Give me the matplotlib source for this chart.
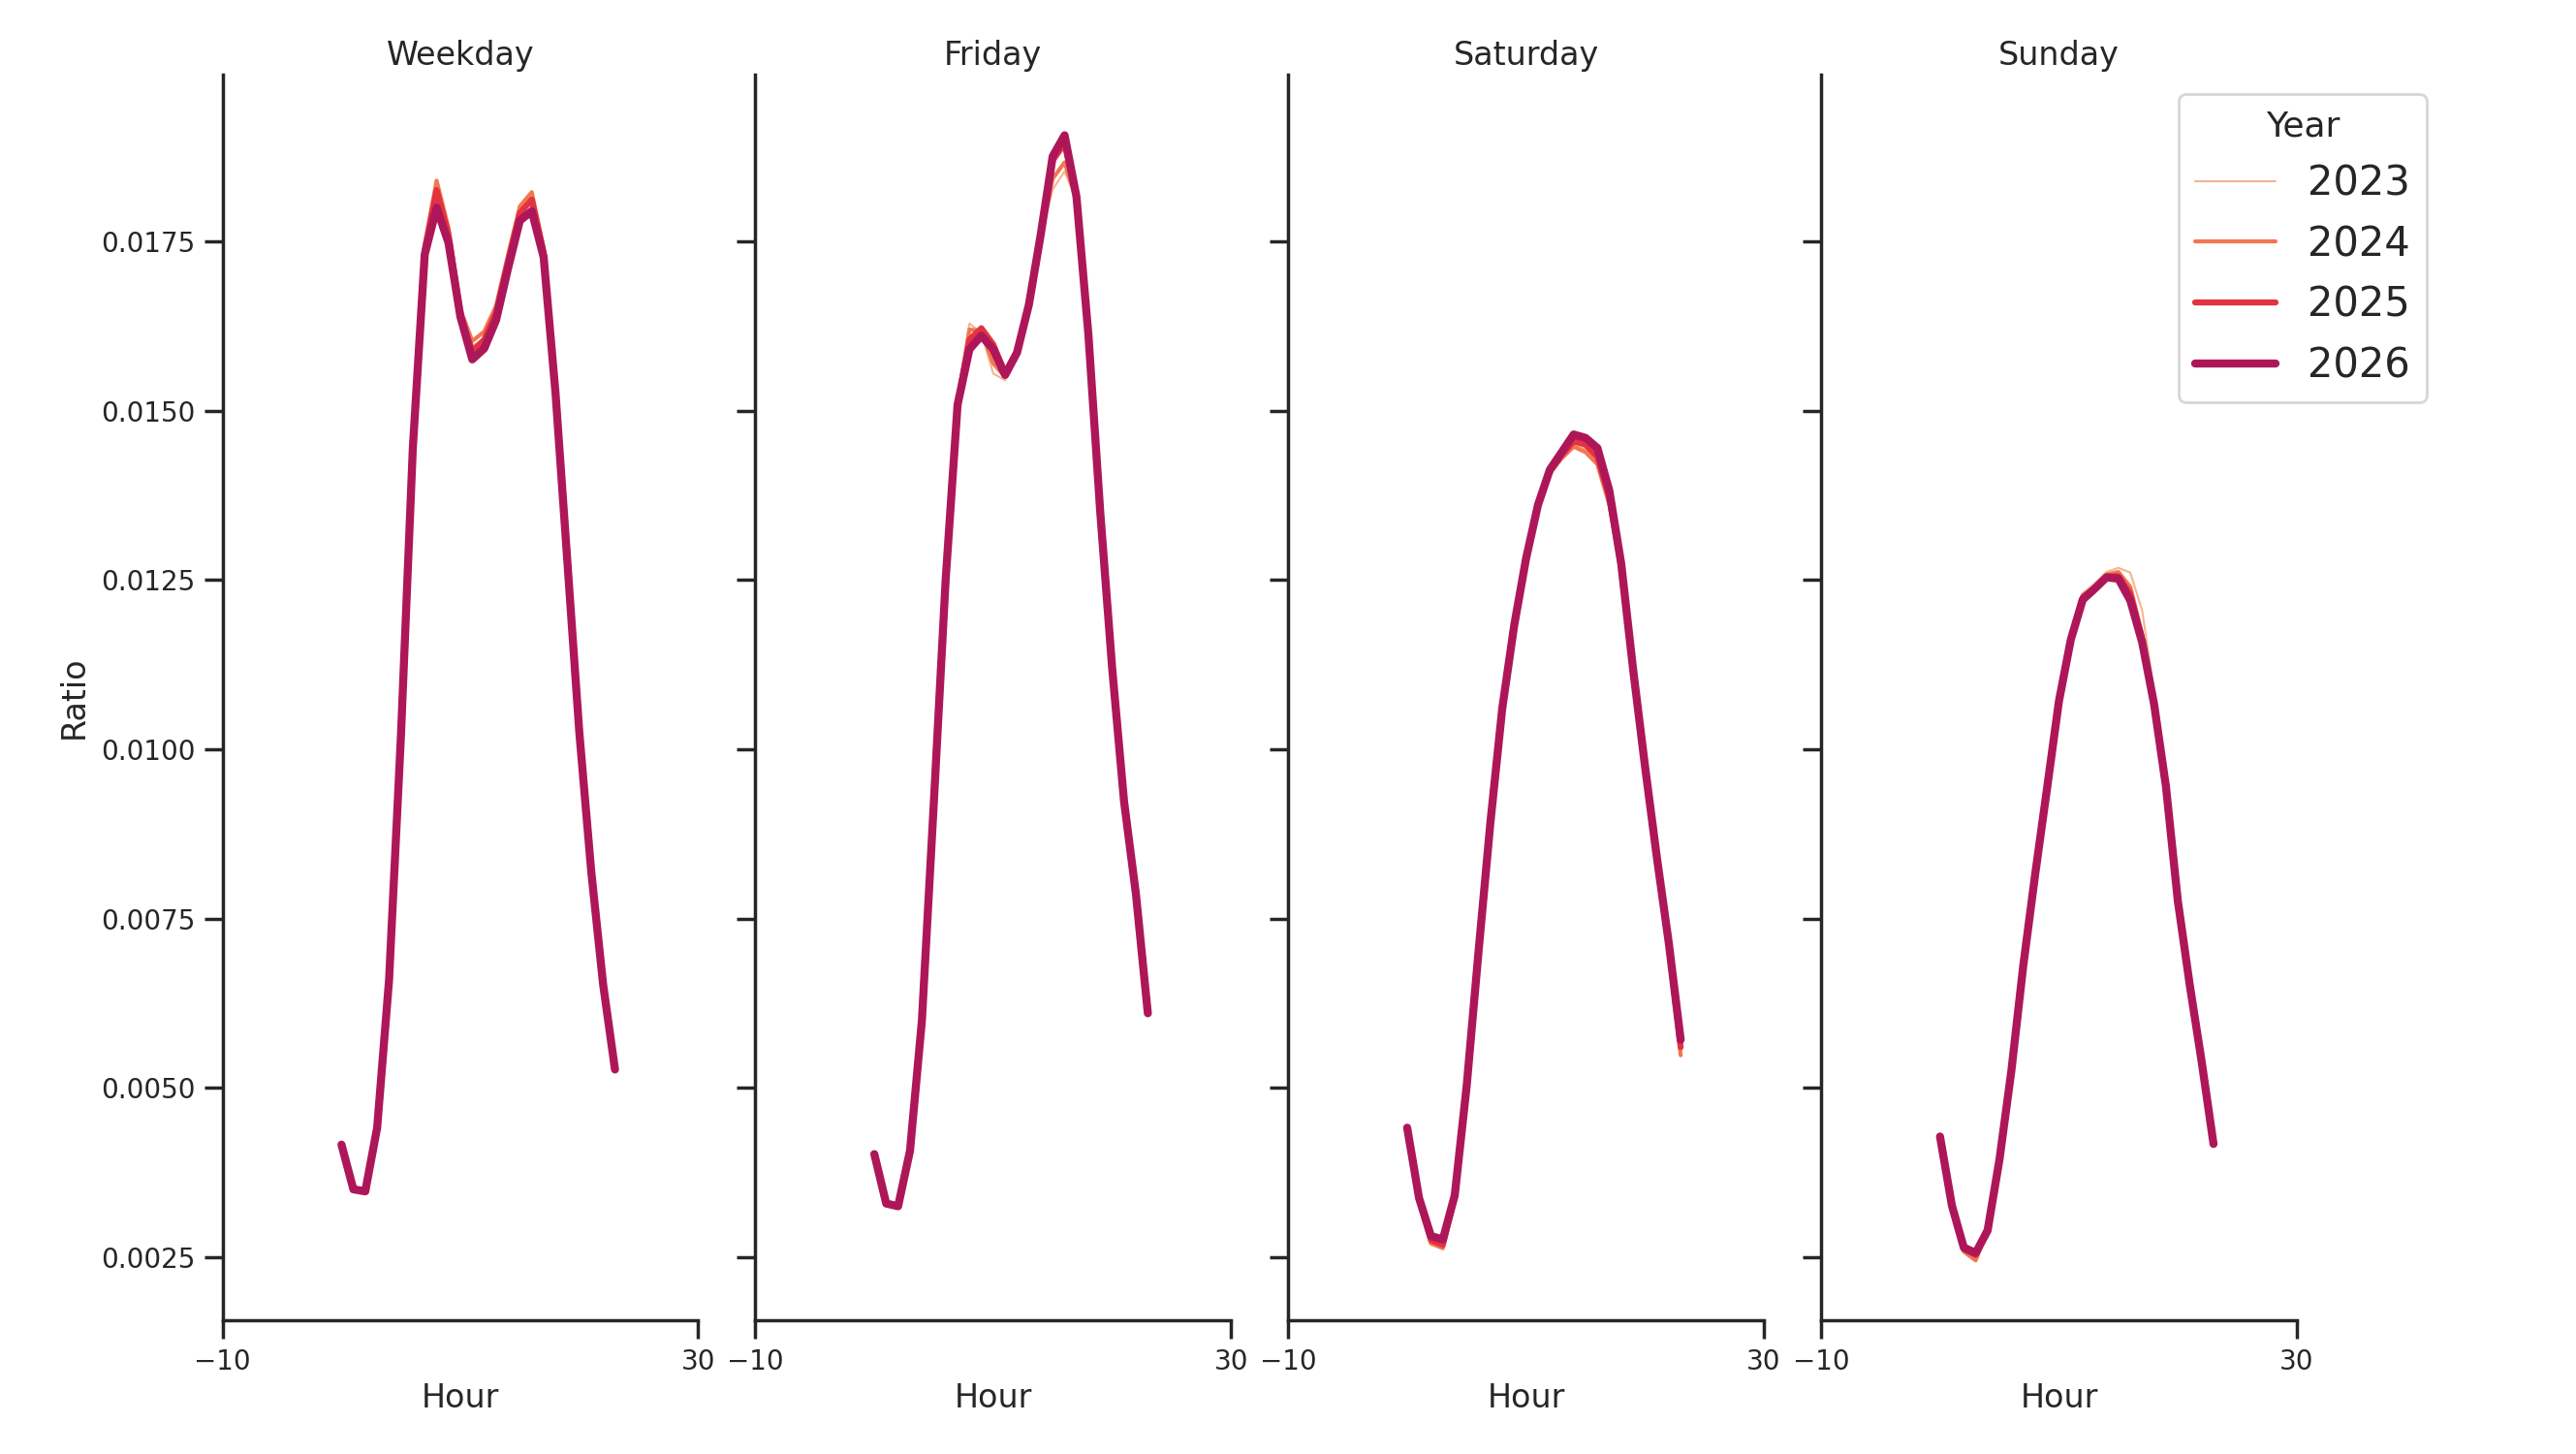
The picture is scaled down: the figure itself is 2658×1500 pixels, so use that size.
import matplotlib
matplotlib.use("Agg")
import matplotlib.pyplot as plt
import seaborn as sns

# Data: share of daily trips per hour, by day type and year ------------------------------------------------------------
hours = list(range(24))
day_types = ["Weekday", "Friday", "Saturday", "Sunday"]
years = [2023, 2024, 2025, 2026]

weekday_2023 = [0.00417, 0.00351, 0.00348, 0.00442, 0.00660, 0.01021, 0.01446, 0.01740, 0.01825, 0.01765, 0.01645, 0.01596,
                0.01606, 0.01648, 0.01722, 0.01795, 0.01815, 0.01735, 0.01527, 0.01277, 0.01026, 0.00821, 0.00654, 0.00528]
weekday_2024 = [0.00418, 0.00352, 0.00349, 0.00443, 0.00661, 0.01022, 0.01447, 0.01745, 0.01840, 0.01770, 0.01650, 0.01603,
                0.01617, 0.01655, 0.01730, 0.01802, 0.01823, 0.01740, 0.01530, 0.01278, 0.01027, 0.00822, 0.00655, 0.00529]
weekday_2025 = [0.00417, 0.00351, 0.00348, 0.00442, 0.00660, 0.01021, 0.01446, 0.01738, 0.01826, 0.01760, 0.01642, 0.01588,
                0.01605, 0.01645, 0.01720, 0.01792, 0.01812, 0.01734, 0.01528, 0.01277, 0.01026, 0.00821, 0.00654, 0.00528]
weekday_2026 = [0.00416, 0.00350, 0.00347, 0.00441, 0.00659, 0.01020, 0.01445, 0.01731, 0.01800, 0.01748, 0.01639, 0.01576,
                0.01592, 0.01634, 0.01710, 0.01781, 0.01795, 0.01727, 0.01526, 0.01276, 0.01025, 0.00820, 0.00653, 0.00527]

friday_2023 = [0.00403, 0.00330, 0.00326, 0.00408, 0.00600, 0.00921, 0.01252, 0.01520, 0.01629, 0.01615, 0.01555, 0.01545,
               0.01583, 0.01657, 0.01755, 0.01827, 0.01854, 0.01810, 0.01612, 0.01350, 0.01120, 0.00923, 0.00786, 0.00610]
friday_2024 = [0.00403, 0.00330, 0.00326, 0.00408, 0.00600, 0.00921, 0.01252, 0.01515, 0.01620, 0.01618, 0.01570, 0.01550,
               0.01585, 0.01657, 0.01758, 0.01843, 0.01867, 0.01812, 0.01612, 0.01350, 0.01120, 0.00923, 0.00786, 0.00610]
friday_2025 = [0.00402, 0.00329, 0.00325, 0.00407, 0.00599, 0.00920, 0.01251, 0.01510, 0.01605, 0.01622, 0.01598, 0.01555,
               0.01586, 0.01657, 0.01760, 0.01870, 0.01895, 0.01815, 0.01613, 0.01350, 0.01120, 0.00923, 0.00786, 0.00610]
friday_2026 = [0.00402, 0.00329, 0.00325, 0.00407, 0.00599, 0.00920, 0.01251, 0.01509, 0.01591, 0.01611, 0.01591, 0.01553,
               0.01586, 0.01657, 0.01761, 0.01876, 0.01907, 0.01816, 0.01613, 0.01350, 0.01120, 0.00923, 0.00786, 0.00610]

saturday_2023 = [0.00440, 0.00336, 0.00272, 0.00266, 0.00338, 0.00500, 0.00700, 0.00891, 0.01060, 0.01182, 0.01280, 0.01358,
                 0.01408, 0.01432, 0.01450, 0.01443, 0.01425, 0.01365, 0.01265, 0.01112, 0.00970, 0.00836, 0.00708, 0.00552]
saturday_2024 = [0.00440, 0.00336, 0.00270, 0.00263, 0.00338, 0.00500, 0.00700, 0.00891, 0.01060, 0.01182, 0.01280, 0.01358,
                 0.01408, 0.01430, 0.01447, 0.01439, 0.01421, 0.01361, 0.01265, 0.01112, 0.00970, 0.00836, 0.00708, 0.00548]
saturday_2025 = [0.00441, 0.00337, 0.00275, 0.00268, 0.00340, 0.00501, 0.00701, 0.00892, 0.01061, 0.01183, 0.01282, 0.01360,
                 0.01410, 0.01435, 0.01455, 0.01450, 0.01432, 0.01372, 0.01270, 0.01115, 0.00972, 0.00838, 0.00711, 0.00560]
saturday_2026 = [0.00441, 0.00337, 0.00281, 0.00276, 0.00341, 0.00502, 0.00701, 0.00892, 0.01061, 0.01183, 0.01282, 0.01361,
                 0.01413, 0.01439, 0.01465, 0.01460, 0.01445, 0.01382, 0.01274, 0.01118, 0.00975, 0.00840, 0.00714, 0.00571]

sunday_2023 = [0.00427, 0.00325, 0.00260, 0.00250, 0.00292, 0.00391, 0.00527, 0.00685, 0.00816, 0.00945, 0.01073, 0.01166,
               0.01230, 0.01245, 0.01262, 0.01268, 0.01261, 0.01205, 0.01085, 0.00945, 0.00772, 0.00653, 0.00537, 0.00418]
sunday_2024 = [0.00427, 0.00325, 0.00258, 0.00245, 0.00290, 0.00391, 0.00527, 0.00685, 0.00816, 0.00945, 0.01073, 0.01166,
               0.01228, 0.01240, 0.01258, 0.01262, 0.01240, 0.01170, 0.01072, 0.00942, 0.00772, 0.00653, 0.00537, 0.00418]
sunday_2025 = [0.00428, 0.00326, 0.00262, 0.00253, 0.00293, 0.00392, 0.00528, 0.00686, 0.00817, 0.00947, 0.01074, 0.01164,
               0.01224, 0.01237, 0.01255, 0.01256, 0.01230, 0.01162, 0.01068, 0.00941, 0.00772, 0.00654, 0.00536, 0.00418]
sunday_2026 = [0.00428, 0.00326, 0.00264, 0.00256, 0.00289, 0.00394, 0.00525, 0.00680, 0.00815, 0.00942, 0.01071, 0.01162,
               0.01221, 0.01237, 0.01254, 0.01252, 0.01220, 0.01158, 0.01067, 0.00945, 0.00776, 0.00652, 0.00539, 0.00417]

ratios = {
    "Weekday": [weekday_2023, weekday_2024, weekday_2025, weekday_2026],
    "Friday": [friday_2023, friday_2024, friday_2025, friday_2026],
    "Saturday": [saturday_2023, saturday_2024, saturday_2025, saturday_2026],
    "Sunday": [sunday_2023, sunday_2024, sunday_2025, sunday_2026],
}

year_colors = ["#f6b48f", "#f37651", "#e13342", "#ad1759"]  # rocket palette, light -> dark
year_widths = [0.75, 1.5, 2.25, 3.0]

# Figure -----------------------------------------------------------------------------------------------------------------
sns.set_theme(style="ticks", context="notebook")

fig, axes = plt.subplots(1, 4, sharey=True, figsize=(2658 / 200, 1500 / 200), dpi=200)
fig.subplots_adjust(left=0.0864, right=0.8916, top=0.949, bottom=0.0919, wspace=0.1202)

for ax, day in zip(axes, day_types):
    for year, values, color, lw in zip(years, ratios[day], year_colors, year_widths):
        ax.plot(hours, values, color=color, lw=lw, label=str(year), solid_capstyle="round")
    ax.set_title(day, fontsize=12, pad=3.5)
    ax.set_xlabel("Hour", fontsize=12, labelpad=2.8)
    ax.set_xlim(-10, 30)
    ax.set_xticks([-10, 30])
    ax.tick_params(labelsize=10, length=6.75, width=1.25)
    for side in ("left", "bottom"):
        ax.spines[side].set_linewidth(1.25)
    sns.despine(ax=ax)

axes[0].set_ylim(0.001564, 0.019973)
axes[0].set_yticks([0.0025, 0.0050, 0.0075, 0.0100, 0.0125, 0.0150, 0.0175])
axes[0].set_ylabel("Ratio", fontsize=12)

handles, labels = axes[0].get_legend_handles_labels()
fig.legend(handles, labels, title="Year", loc="upper right", bbox_to_anchor=(0.942, 0.9355),
           fontsize=15, title_fontsize=13, borderaxespad=0, labelspacing=0.5)

fig.savefig("out.png", dpi=200)
